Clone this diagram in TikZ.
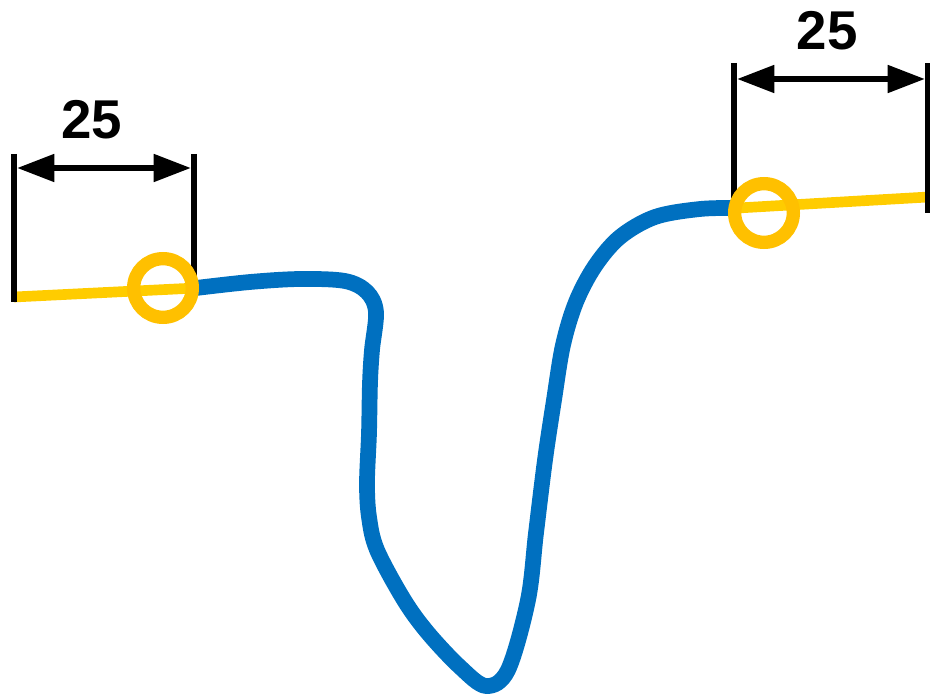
\documentclass[tikz,border=0pt]{standalone}
\usepackage{fontspec}
\setmainfont{Liberation Sans}
\usetikzlibrary{arrows.meta}
\definecolor{curveblue}{HTML}{0070C0}
\definecolor{lineyellow}{HTML}{FFCC00}
\definecolor{ringyellow}{HTML}{FFC000}
\tikzstyle{tick}=[draw,black,line width=4.5pt]
\tikzstyle{dimline}=[draw,black,line width=4.5pt,{Triangle[length=28pt,width=20pt]}-{Triangle[length=28pt,width=20pt]}]
\tikzstyle{flatline}=[draw,lineyellow,line width=8pt]
\tikzstyle{profile}=[draw,curveblue,line width=11.8pt,line join=round]
\tikzstyle{ring}=[circle,draw=ringyellow,line width=10pt,minimum size=44pt,inner sep=0pt]
\tikzstyle{dimlabel}=[font=\fontsize{41}{42}\selectfont\bfseries,inner sep=0pt]
\begin{document}
\begin{tikzpicture}[x=0.75pt,y=-0.75pt]
    \useasboundingbox (0,0) rectangle (930,695);

    % ends of the ticks, arrows and yellow lines
    \foreach \x/\y/\name in {14/154/lta, 14/302/ltb, 194/154/lua, 194/290/lub,
                             734/63/rta, 734/205/rtb, 928/63/rua, 928/213/rub,
                             17/168/lda, 191/168/ldb, 737/79/rda, 925/79/rdb,
                             14/297/lya, 196/288/lyb, 738/208/rya, 928/197/ryb}
        \coordinate (\name) at (\x,\y);

    % yellow lines
    \draw[flatline] (lya) -- (lyb);
    \draw[flatline] (rya) -- (ryb);

    % blue profile
    \draw[profile] plot[smooth,tension=0.55] coordinates {(lyb) (250,282) (300,279) (345,281)
        (367,292) (376,312) (372,350) (370,383) (369,433) (367,483) (369,517) (377,550)
        (404,600) (428,633) (460,667) (486,686) (508,670) (528,600) (536,533) (545,460)
        (554,400) (563,345) (576,302) (595,266) (620,237) (655,217) (700,209) (rya)};

    % ticks and dimension arrows
    \foreach \a/\b in {lta/ltb, lua/lub, rta/rtb, rua/rub}
        \path[tick] (\a) -- (\b);
    \path[dimline] (lda) -- (ldb);
    \path[dimline] (rda) -- (rdb);

    % rings
    \node[ring] (lring) at (163,288) {};
    \node[ring] (rring) at (764,213) {};

    % labels
    \node[dimlabel] (llabel) at (92,120) {25};
    \node[dimlabel] (rlabel) at (827,31) {25};
\end{tikzpicture}
\end{document}
